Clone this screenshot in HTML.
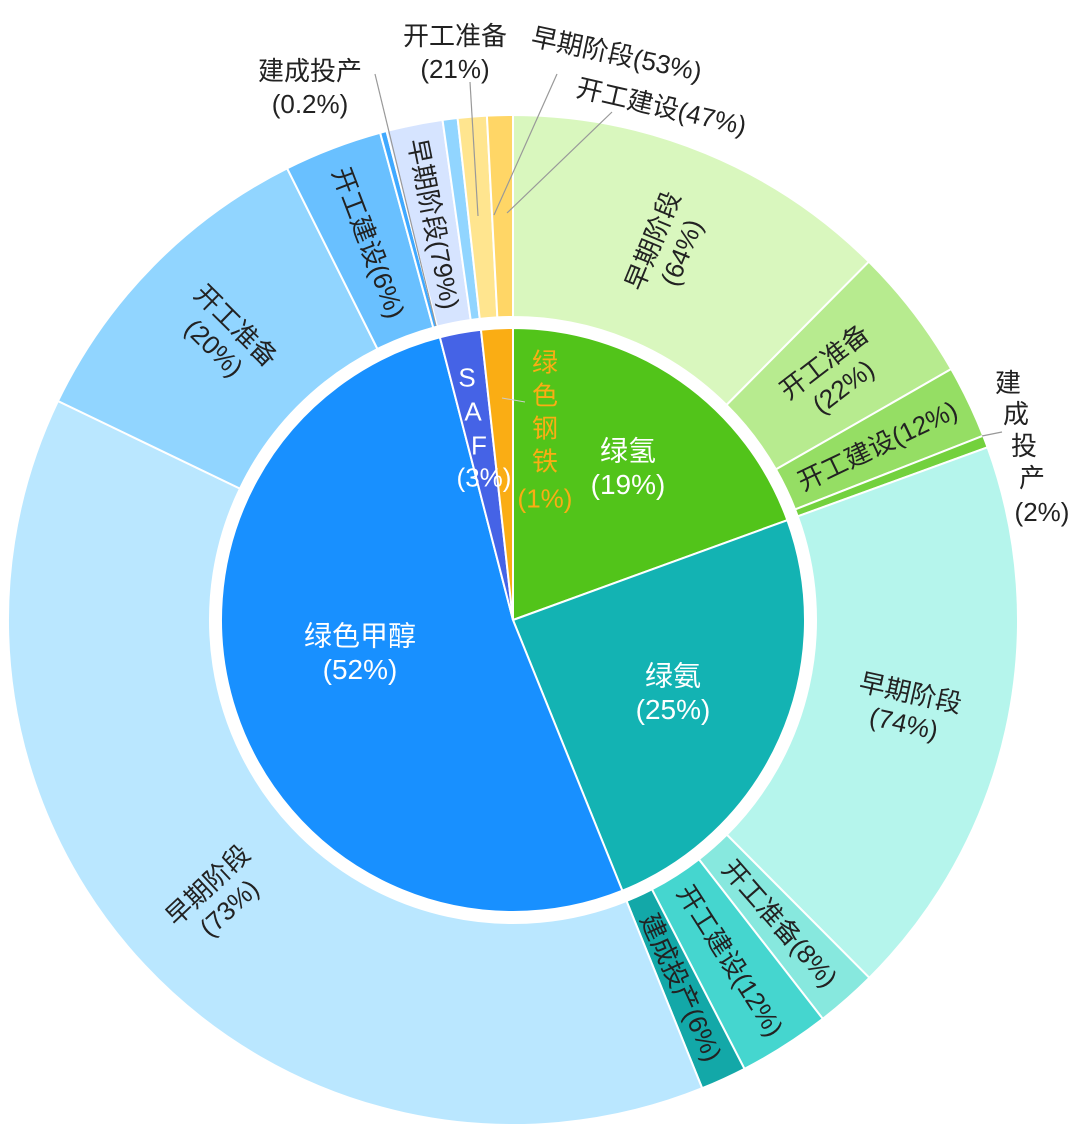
<!DOCTYPE html>
<html><head><meta charset="utf-8">
<style>
html,body{margin:0;padding:0;background:#fff;}
svg{display:block;font-family:"Liberation Sans","Noto Sans CJK SC",sans-serif;}
</style></head>
<body>
<svg id="s" width="1080" height="1139" viewBox="0 0 1080 1139" xmlns="http://www.w3.org/2000/svg">
<g id="g"></g>
<g font-size="26" fill="#222">
<line x1="375" y1="74" x2="436" y2="326" stroke="#999" stroke-width="1.2"/>
<line x1="470" y1="82" x2="478" y2="216" stroke="#999" stroke-width="1.2"/>
<line x1="557" y1="74" x2="494" y2="215" stroke="#999" stroke-width="1.2"/>
<line x1="612" y1="112" x2="507" y2="213" stroke="#999" stroke-width="1.2"/>
<line x1="1002" y1="432" x2="982" y2="436" stroke="#999" stroke-width="1.2"/>
<text x="310" y="80" text-anchor="middle">建成投产</text>
<text x="310" y="113" text-anchor="middle">(0.2%)</text>
<text x="455" y="45" text-anchor="middle">开工准备</text>
<text x="455" y="78" text-anchor="middle">(21%)</text>
<text x="530" y="45" transform="rotate(12 530 45)">早期阶段(53%)</text>
<text x="575" y="96" transform="rotate(13 575 96)">开工建设(47%)</text>
<text x="1008" y="392" text-anchor="middle">建</text>
<text x="1016" y="423" text-anchor="middle">成</text>
<text x="1024" y="455" text-anchor="middle">投</text>
<text x="1032" y="487" text-anchor="middle">产</text>
<text x="1042" y="521" text-anchor="middle">(2%)</text>
</g>
</svg>
<script>
var cx=513,cy=620;
var g=document.getElementById('g');
var NS='http://www.w3.org/2000/svg';
function pt(r,a){a=a*Math.PI/180;return [cx+r*Math.sin(a),cy-r*Math.cos(a)];}
function arc(r0,r1,a0,a1,fill){
 var p=document.createElementNS(NS,'path');
 var l=(a1-a0)>180?1:0;var A=pt(r1,a0),B=pt(r1,a1),C=pt(r0,a1),D=pt(r0,a0);
 var d='M'+A+' A'+r1+','+r1+' 0 '+l+' 1 '+B+' L'+C;
 if(r0>0)d+=' A'+r0+','+r0+' 0 '+l+' 0 '+D;
 d+=' Z';
 p.setAttribute('d',d);p.setAttribute('fill',fill);p.setAttribute('stroke','#fff');p.setAttribute('stroke-width','2');
 g.appendChild(p);
}
function txt(lines,x,y,rot,size,fill){
 var t=document.createElementNS(NS,'text');
 t.setAttribute('text-anchor','middle');t.setAttribute('font-size',size);t.setAttribute('fill',fill);
 t.setAttribute('transform','rotate('+rot+' '+x+' '+y+')');
 var n=lines.length,lh=size*1.2;
 lines.forEach(function(s,i){var ts=document.createElementNS(NS,'tspan');ts.setAttribute('x',x);
  ts.setAttribute('y',y+(i-(n-1)/2)*lh+size*0.36);ts.textContent=s;t.appendChild(ts);});
 g.appendChild(t);
}
var inner=[
 {a0:0,a1:70,c:'#52c41a',kids:[[64,'#d9f7be',['早期阶段','(64%)']],[22,'#b7eb8f',['开工准备','(22%)']],[12,'#95de64',['开工建设(12%)']],[2,'#73d13d',null]]},
 {a0:70,a1:158,c:'#13b3b3',kids:[[74,'#b5f5ec',['早期阶段','(74%)']],[8,'#87e8de',['开工准备(8%)']],[12,'#45d6cf',['开工建设(12%)']],[6,'#13a8a8',['建成投产(6%)']]]},
 {a0:158,a1:345.5,c:'#1890ff',kids:[[73,'#bae7ff',['早期阶段','(73%)']],[20,'#91d5ff',['开工准备','(20%)']],[6,'#69c0ff',['开工建设(6%)']],[0.4,'#40a9ff',null]]},
 {a0:345.5,a1:353.7,c:'#4563e6',kids:[[79,'#d6e4ff',['早期阶段(79%)']],[21,'#91d5ff',null]]},
 {a0:353.7,a1:360,c:'#faad14',kids:[[53,'#ffe58f',null],[47,'#ffd666',null]]}
];
inner.forEach(function(s){
 arc(0,292,s.a0,s.a1,s.c);
 var tot=s.kids.reduce(function(a,k){return a+k[0]},0),a=s.a0;
 s.kids.forEach(function(k){
  var b=a+(s.a1-s.a0)*k[0]/tot;arc(303,505,a,b,k[1]);
  if(k[2]){var m=(a+b)/2,p=pt(404,m);var rot=m<180?m-90:m+90;txt(k[2],p[0],p[1],rot,26,'#222');}
  a=b;});
});
txt(['绿氢','(19%)'],628,467,0,28,'#fff');
txt(['绿氨','(25%)'],673,692,0,28,'#fff');
txt(['绿色甲醇','(52%)'],360,652,0,28,'#fff');
['S','A','F'].forEach(function(c,i){txt([c],467+i*6,377+i*34,0,26,'#fff');});
txt(['(3%)'],484,477,0,26,'#fff');
['绿','色','钢','铁'].forEach(function(c,i){txt([c],545,362+i*33,0,26,'#faad14');});
txt(['(1%)'],545,498,0,26,'#faad14');
var l=document.createElementNS(NS,'line');l.setAttribute('x1',502);l.setAttribute('y1',398);l.setAttribute('x2',525);l.setAttribute('y2',402);l.setAttribute('stroke','#ccc');g.appendChild(l);
</script>
</body></html>
